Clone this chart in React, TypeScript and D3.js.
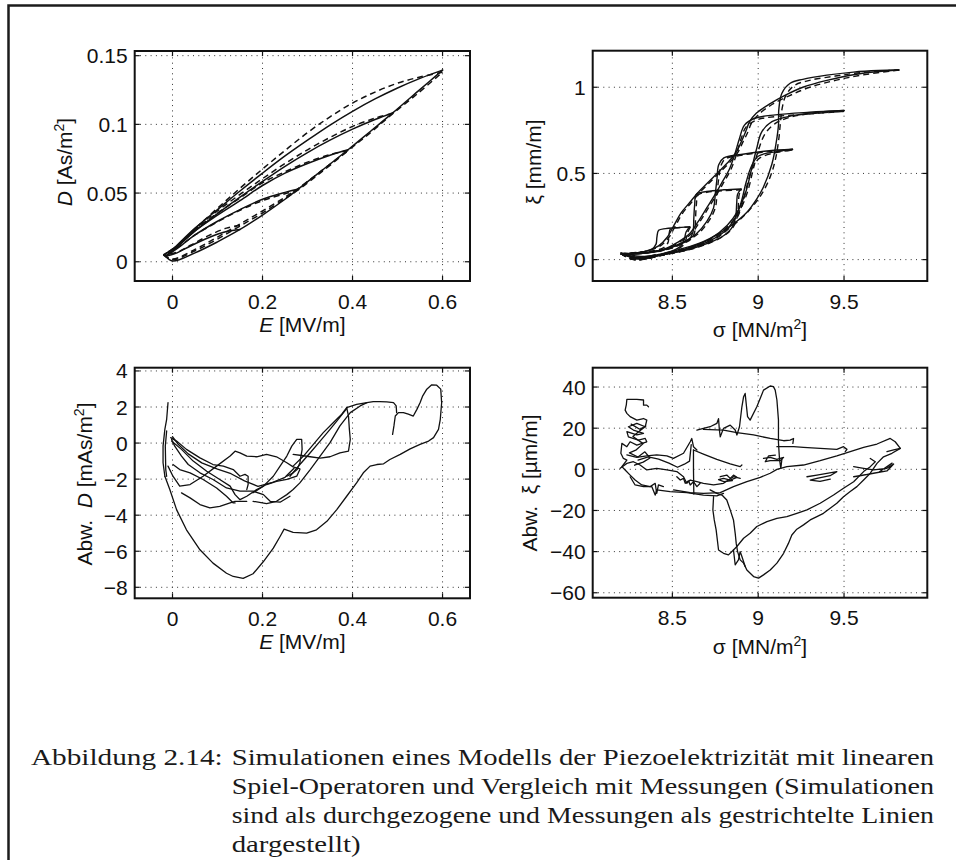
import React from 'react';
import * as d3 from 'd3';

type Pt = [number, number];
type Box = { x0: number; x1: number; y0: number; y1: number };

// ---------- tick values and labels ----------
const eTicks = [0, 0.2, 0.4, 0.6];
const eTickLabels = ['0', '0.2', '0.4', '0.6'];
const dTicks = [0, 0.05, 0.1, 0.15];
const dTickLabels = ['0', '0.05', '0.1', '0.15'];
const sigmaTicks = [8.5, 9, 9.5];
const sigmaTickLabels = ['8.5', '9', '9.5'];
const xiTicks = [0, 0.5, 1];
const xiTickLabels = ['0', '0.5', '1'];
const dErrTicks = [-8, -6, -4, -2, 0, 2, 4];
const dErrTickLabels = ['\u22128', '\u22126', '\u22124', '\u22122', '0', '2', '4'];
const xiErrTicks = [-60, -40, -20, 0, 20, 40];
const xiErrTickLabels = ['\u221260', '\u221240', '\u221220', '0', '20', '40'];

// ---------- D(E): simulation (solid) ----------
const simDAsc: Pt[] = [[-0.015, 0.004], [0, 0.0005], [0.05, 0.0065], [0.1, 0.0145], [0.15, 0.0235], [0.2, 0.034], [0.25, 0.0455], [0.28, 0.053], [0.33, 0.066], [0.39, 0.0815], [0.44, 0.095], [0.49, 0.1085], [0.545, 0.124], [0.6, 0.1395]];
const simDLoop1: Pt[] = [[0.6, 0.1395], [0.55, 0.1335], [0.5, 0.1265], [0.45, 0.1185], [0.4, 0.1095], [0.35, 0.0995], [0.3, 0.0885], [0.25, 0.077], [0.2, 0.0645], [0.15, 0.0515], [0.1, 0.038], [0.05, 0.0245], [0.01, 0.012], [-0.015, 0.004]];
const simDLoop2: Pt[] = [[0.49, 0.1085], [0.45, 0.1035], [0.4, 0.0965], [0.35, 0.0885], [0.3, 0.0795], [0.25, 0.0695], [0.2, 0.0585], [0.15, 0.047], [0.1, 0.035], [0.05, 0.0225], [0.01, 0.011], [-0.015, 0.004]];
const simDLoop3: Pt[] = [[0.39, 0.0815], [0.35, 0.0775], [0.3, 0.0715], [0.25, 0.0645], [0.2, 0.0555], [0.15, 0.0445], [0.1, 0.034], [0.05, 0.0225], [0.01, 0.0105], [-0.015, 0.004]];
const simDLoop4: Pt[] = [[0.28, 0.053], [0.25, 0.0505], [0.2, 0.0455], [0.15, 0.038], [0.1, 0.0295], [0.05, 0.0195], [0.01, 0.0095], [-0.015, 0.004]];
const simDLoop5: Pt[] = [[0.15, 0.0235], [0.12, 0.022], [0.08, 0.0175], [0.04, 0.0115], [0.01, 0.0065], [-0.015, 0.004]];

// ---------- D(E): measurement (dashed) ----------
const measDAsc: Pt[] = [[-0.02, 0.005], [0, 0.002], [0.05, 0.009], [0.1, 0.018], [0.15, 0.0275], [0.2, 0.037], [0.25, 0.047], [0.28, 0.0535], [0.33, 0.066], [0.39, 0.081], [0.44, 0.094], [0.49, 0.108], [0.545, 0.1225], [0.6, 0.138]];
const measDAscInner: Pt[] = [[-0.02, 0.005], [0, 0.0015], [0.05, 0.008], [0.1, 0.0165], [0.15, 0.026], [0.2, 0.0355], [0.25, 0.046], [0.28, 0.0525], [0.33, 0.065], [0.39, 0.0808]];
const measDLoop1: Pt[] = [[0.6, 0.138], [0.55, 0.1345], [0.5, 0.13], [0.45, 0.1235], [0.4, 0.1155], [0.35, 0.1055], [0.3, 0.094], [0.25, 0.081], [0.2, 0.0675], [0.15, 0.0535], [0.1, 0.039], [0.05, 0.024], [0.01, 0.0115], [-0.02, 0.005]];
const measDLoop2: Pt[] = [[0.49, 0.108], [0.45, 0.1045], [0.4, 0.0985], [0.35, 0.0905], [0.3, 0.0815], [0.25, 0.0715], [0.2, 0.0605], [0.15, 0.049], [0.1, 0.037], [0.05, 0.024], [0.01, 0.0115], [-0.02, 0.005]];
const measDLoop3: Pt[] = [[0.39, 0.081], [0.35, 0.078], [0.3, 0.0725], [0.25, 0.0655], [0.2, 0.0575], [0.15, 0.0465], [0.1, 0.0355], [0.05, 0.0235], [0.01, 0.0115], [-0.02, 0.005]];
const measDLoop4: Pt[] = [[0.28, 0.0525], [0.25, 0.0495], [0.2, 0.0445], [0.15, 0.0375], [0.1, 0.029], [0.05, 0.0195], [0.01, 0.01], [-0.02, 0.005]];
const measDLoop5: Pt[] = [[0.15, 0.0265], [0.12, 0.0245], [0.08, 0.019], [0.04, 0.012], [0.01, 0.007], [-0.02, 0.005]];

// ---------- xi(sigma): simulation (solid) ----------
const simXiAsc1: Pt[] = [[8.22, 0.03], [8.29, 0.005], [8.4, 0.02], [8.49, 0.046], [8.6, 0.075], [8.68, 0.104], [8.76, 0.145], [8.84, 0.195], [8.93, 0.27], [8.99, 0.35], [9.03, 0.42], [9.08, 0.555], [9.105, 0.68], [9.118, 0.78], [9.12, 0.87], [9.138, 0.965], [9.186, 1.023], [9.26, 1.046], [9.4, 1.07], [9.555, 1.088], [9.7, 1.097], [9.82, 1.1]];
const simXiDesc1: Pt[] = [[9.82, 1.1], [9.6, 1.08], [9.4, 1.04], [9.26, 1.0], [9.15, 0.95], [9.07, 0.905], [8.99, 0.85], [8.95, 0.8], [8.93, 0.75], [8.9, 0.68], [8.87, 0.62], [8.82, 0.56], [8.76, 0.5], [8.7, 0.44], [8.65, 0.39], [8.6, 0.33], [8.55, 0.27], [8.51, 0.2], [8.47, 0.13], [8.42, 0.08], [8.35, 0.05], [8.22, 0.03]];
const simXiAsc2: Pt[] = [[8.22, 0.03], [8.3, 0.01], [8.45, 0.03], [8.6, 0.07], [8.72, 0.12], [8.82, 0.2], [8.88, 0.28], [8.93, 0.4], [8.96, 0.52], [8.99, 0.64], [9.02, 0.74], [9.08, 0.8], [9.2, 0.835], [9.35, 0.855], [9.5, 0.865]];
const simXiDesc2: Pt[] = [[9.5, 0.865], [9.3, 0.855], [9.1, 0.84], [8.98, 0.82], [8.92, 0.78], [8.89, 0.7], [8.86, 0.6], [8.83, 0.52], [8.79, 0.45], [8.75, 0.38], [8.7, 0.3], [8.65, 0.22], [8.6, 0.15], [8.53, 0.1], [8.45, 0.06], [8.35, 0.04], [8.22, 0.03]];
const simXiAsc3: Pt[] = [[8.22, 0.03], [8.3, 0.01], [8.45, 0.03], [8.6, 0.065], [8.72, 0.11], [8.8, 0.16], [8.86, 0.23], [8.9, 0.33], [8.93, 0.45], [8.96, 0.54], [9.0, 0.6], [9.1, 0.625], [9.2, 0.64]];
const simXiDesc3: Pt[] = [[9.2, 0.64], [9.05, 0.63], [8.9, 0.61], [8.8, 0.59], [8.77, 0.55], [8.76, 0.47], [8.75, 0.38], [8.74, 0.3], [8.7, 0.22], [8.64, 0.15], [8.56, 0.1], [8.46, 0.06], [8.35, 0.04], [8.22, 0.03]];
const simXiAsc4: Pt[] = [[8.22, 0.03], [8.3, 0.01], [8.45, 0.03], [8.6, 0.06], [8.72, 0.1], [8.8, 0.14], [8.85, 0.19], [8.87, 0.26], [8.875, 0.33], [8.88, 0.38], [8.9, 0.41]];
const simXiDesc4: Pt[] = [[8.9, 0.41], [8.8, 0.405], [8.7, 0.395], [8.64, 0.38], [8.63, 0.32], [8.625, 0.24], [8.62, 0.16], [8.6, 0.12], [8.52, 0.08], [8.42, 0.05], [8.3, 0.035], [8.22, 0.03]];
const simXiAsc5: Pt[] = [[8.22, 0.03], [8.3, 0.015], [8.42, 0.03], [8.5, 0.05], [8.55, 0.08], [8.57, 0.12], [8.58, 0.16], [8.6, 0.19]];
const simXiDesc5: Pt[] = [[8.6, 0.19], [8.52, 0.185], [8.46, 0.18], [8.42, 0.17], [8.41, 0.13], [8.405, 0.09], [8.38, 0.06], [8.3, 0.04], [8.22, 0.03]];
const simXiFoot1: Pt[] = [[8.2, 0.04], [8.24, 0.02], [8.28, 0.006], [8.33, 0.004], [8.38, 0.012]];
const simXiFoot2: Pt[] = [[8.2, 0.033], [8.25, 0.028], [8.3, 0.02], [8.36, 0.02], [8.4, 0.028]];

// ---------- xi(sigma): measurement (dashed) ----------
const measXiAsc1: Pt[] = [[8.2, 0.035], [8.28, 0.0], [8.4, 0.018], [8.5, 0.044], [8.62, 0.078], [8.72, 0.118], [8.8, 0.165], [8.88, 0.22], [8.96, 0.3], [9.02, 0.38], [9.07, 0.48], [9.1, 0.58], [9.12, 0.7], [9.13, 0.8], [9.14, 0.88], [9.16, 0.95], [9.21, 1.01], [9.3, 1.04], [9.45, 1.065], [9.6, 1.085], [9.82, 1.1]];
const measXiDesc1: Pt[] = [[9.82, 1.1], [9.6, 1.07], [9.45, 1.04], [9.3, 1.0], [9.18, 0.95], [9.08, 0.9], [9.0, 0.84], [8.96, 0.79], [8.94, 0.74], [8.91, 0.68], [8.88, 0.62], [8.83, 0.56], [8.77, 0.5], [8.71, 0.44], [8.66, 0.39], [8.61, 0.33], [8.56, 0.27], [8.52, 0.2], [8.48, 0.13], [8.43, 0.08], [8.35, 0.05], [8.2, 0.035]];
const measXiAsc2: Pt[] = [[8.2, 0.035], [8.28, 0.0], [8.45, 0.028], [8.6, 0.068], [8.72, 0.118], [8.82, 0.19], [8.89, 0.28], [8.94, 0.4], [8.97, 0.52], [9.0, 0.63], [9.04, 0.73], [9.1, 0.79], [9.2, 0.83], [9.35, 0.85], [9.5, 0.86]];
const measXiDesc2: Pt[] = [[9.5, 0.86], [9.3, 0.845], [9.1, 0.83], [8.99, 0.81], [8.93, 0.77], [8.9, 0.7], [8.87, 0.6], [8.84, 0.52], [8.8, 0.45], [8.76, 0.38], [8.71, 0.3], [8.66, 0.22], [8.61, 0.15], [8.54, 0.1], [8.46, 0.06], [8.35, 0.04], [8.2, 0.035]];
const measXiAsc3: Pt[] = [[8.2, 0.035], [8.28, 0.0], [8.45, 0.028], [8.6, 0.062], [8.72, 0.105], [8.8, 0.155], [8.87, 0.23], [8.91, 0.33], [8.94, 0.45], [8.97, 0.54], [9.01, 0.59], [9.1, 0.62], [9.2, 0.635]];
const measXiDesc3: Pt[] = [[9.2, 0.635], [9.05, 0.625], [8.9, 0.605], [8.81, 0.585], [8.785, 0.55], [8.77, 0.47], [8.76, 0.38], [8.75, 0.3], [8.71, 0.22], [8.65, 0.15], [8.57, 0.1], [8.47, 0.06], [8.35, 0.04], [8.2, 0.035]];
const measXiAsc4: Pt[] = [[8.2, 0.035], [8.28, 0.0], [8.45, 0.028], [8.6, 0.058], [8.72, 0.098], [8.8, 0.138], [8.855, 0.19], [8.88, 0.26], [8.885, 0.33], [8.89, 0.38], [8.905, 0.405]];
const measXiDesc4: Pt[] = [[8.905, 0.405], [8.8, 0.4], [8.7, 0.39], [8.65, 0.375], [8.64, 0.32], [8.635, 0.24], [8.63, 0.16], [8.61, 0.12], [8.53, 0.08], [8.43, 0.05], [8.3, 0.035], [8.2, 0.035]];
const measXiAsc5: Pt[] = [[8.2, 0.035], [8.28, 0.005], [8.42, 0.028], [8.5, 0.048], [8.56, 0.08], [8.58, 0.12], [8.59, 0.16], [8.605, 0.19]];
const measXiDesc5: Pt[] = [[8.605, 0.19], [8.53, 0.185], [8.49, 0.18], [8.48, 0.14], [8.475, 0.1], [8.45, 0.07], [8.38, 0.05], [8.3, 0.04], [8.2, 0.035]];

// ---------- deviation of D (mAs/m^2) over E ----------
const errDLeft: Pt[] = [[-0.01, 2.24], [-0.013, 1.32], [-0.017, 0.76], [-0.021, -0.17], [-0.021, -1.09], [-0.017, -1.84]];
const errDLeft2: Pt[] = [[-0.013, 0.67], [-0.016, -0.17], [-0.015, -1.47], [-0.013, -1.84]];
const errDOuter: Pt[] = [[-0.017, -1.84], [-0.006, -2.58], [0.009, -3.69], [0.031, -4.81], [0.061, -5.92], [0.09, -6.66], [0.12, -7.22], [0.135, -7.4], [0.157, -7.5], [0.179, -7.25], [0.202, -6.57], [0.224, -5.83], [0.239, -5.18], [0.248, -4.77], [0.268, -4.95], [0.298, -4.99], [0.32, -4.81], [0.343, -4.34], [0.365, -3.69], [0.387, -2.95], [0.409, -2.21], [0.424, -1.65], [0.439, -1.28], [0.454, -1.19], [0.469, -1.15], [0.483, -0.91], [0.506, -0.63], [0.528, -0.32], [0.55, -0.07], [0.569, 0.11], [0.58, 0.3], [0.591, 0.76], [0.595, 1.32], [0.598, 2.24], [0.596, 2.99], [0.587, 3.21], [0.576, 3.23], [0.565, 2.99], [0.556, 2.62], [0.55, 2.24], [0.543, 1.87], [0.535, 1.5], [0.524, 1.6], [0.513, 1.69], [0.502, 1.69], [0.495, 1.5], [0.492, 0.95], [0.489, 0.48]];
const errDTop: Pt[] = [[0.387, 1.97], [0.409, 2.15], [0.432, 2.24], [0.446, 2.3], [0.461, 2.3], [0.476, 2.28], [0.491, 2.24], [0.497, 2.06], [0.498, 1.69]];
const errDStep: Pt[] = [[0.387, 1.97], [0.391, 1.5], [0.393, 0.76], [0.395, 0.2], [0.391, -0.45], [0.372, -0.54], [0.35, -0.76], [0.328, -0.83], [0.306, -0.76], [0.287, -0.69], [0.268, -0.63]];
const errDRise1: Pt[] = [[0.261, -1.84], [0.283, -1.19], [0.306, -0.54], [0.328, 0.11], [0.35, 0.76], [0.365, 1.22], [0.38, 1.69], [0.387, 1.91]];
const errDRise2: Pt[] = [[0.268, -1.28], [0.291, -0.72], [0.313, -0.07], [0.335, 0.58], [0.357, 1.13], [0.376, 1.6], [0.387, 1.97]];
const errDRise3: Pt[] = [[0.179, -3.23], [0.209, -3.36], [0.231, -3.23], [0.254, -2.86], [0.268, -2.58], [0.283, -2.21], [0.306, -1.47], [0.328, -0.72], [0.35, 0.02], [0.372, 0.95], [0.395, 1.69], [0.417, 2.06], [0.432, 2.24]];
const errDPeak: Pt[] = [[0.179, -2.76], [0.202, -2.39], [0.224, -1.84], [0.239, -1.28], [0.254, -0.72], [0.265, -0.17], [0.276, 0.2], [0.287, 0.2], [0.288, -0.35], [0.283, -1.09], [0.277, -1.47], [0.268, -1.65], [0.254, -1.84]];
const errDFan1: Pt[] = [[-0.004, 0.3], [0.009, 0.11], [0.031, -0.35], [0.061, -0.82], [0.09, -1.19], [0.113, -1.28], [0.135, -1.47], [0.15, -1.84], [0.161, -1.74], [0.168, -1.84], [0.168, -2.3], [0.165, -2.58]];
const errDFan2: Pt[] = [[-0.002, 0.11], [0.02, -0.35], [0.046, -1.0], [0.076, -1.56], [0.105, -2.02], [0.128, -2.39], [0.139, -2.86], [0.15, -3.14], [0.165, -2.95], [0.187, -2.58], [0.209, -2.3], [0.231, -2.12], [0.254, -2.02], [0.276, -1.84], [0.283, -1.47]];
const errDFan3: Pt[] = [[0.001, -1.19], [0.016, -1.47], [0.039, -1.65], [0.068, -2.02], [0.098, -2.49], [0.12, -2.95], [0.135, -3.32], [0.139, -3.32]];
const errDFan4: Pt[] = [[-0.01, -1.28], [0.001, -1.84], [0.016, -2.39], [0.039, -2.3], [0.068, -1.84], [0.098, -1.28], [0.128, -0.72], [0.139, -0.45], [0.15, -0.54], [0.165, -0.72], [0.187, -0.76], [0.209, -0.63], [0.231, -0.76], [0.254, -1.09], [0.268, -1.32], [0.283, -1.43]];
const errDFan5: Pt[] = [[0.02, -2.76], [0.039, -3.04], [0.061, -3.41], [0.083, -3.6], [0.105, -3.51], [0.128, -3.32], [0.139, -3.23], [0.165, -3.23]];
const errDFan6: Pt[] = [[-0.002, 0.2], [0.005, -0.17], [0.02, -0.72], [0.035, -1.19], [0.061, -1.65], [0.09, -2.02], [0.12, -2.49], [0.15, -2.67], [0.179, -2.67], [0.202, -2.86], [0.217, -3.23], [0.239, -3.28], [0.261, -2.95]];
const errDFan7: Pt[] = [[0.0, 0.35], [0.012, -0.05], [0.035, -0.6], [0.065, -1.1], [0.1, -1.45], [0.13, -1.7], [0.16, -2.1], [0.19, -2.4], [0.22, -2.2], [0.25, -1.9], [0.27, -1.4]];

// ---------- deviation of xi (um/m) over sigma ----------
const errXiScribble: Pt[] = [[8.361, 30.4], [8.351, 31.2], [8.332, 31.2], [8.332, 33.7], [8.293, 34.0], [8.254, 34.0], [8.235, 34.0], [8.232, 31.5], [8.225, 28.8], [8.235, 27.2], [8.254, 25.6], [8.293, 23.9], [8.332, 24.7], [8.351, 23.9], [8.342, 20.7], [8.293, 22.3], [8.244, 20.7], [8.273, 19.1], [8.332, 17.5], [8.293, 16.7], [8.235, 18.3], [8.244, 15.8], [8.302, 14.2], [8.342, 15.0], [8.351, 13.4], [8.293, 11.8], [8.254, 13.4], [8.235, 11.0], [8.206, 12.6], [8.2, 7.8], [8.215, 5.3], [8.235, 4.5], [8.206, 1.3], [8.225, -0.3], [8.254, -2.8], [8.283, -5.2], [8.322, -7.6], [8.371, -8.4], [8.4, -6.8], [8.409, -11.7], [8.419, -7.6], [8.448, -8.4]];
const errXiScribble2: Pt[] = [[8.26, 22.0], [8.31, 19.5], [8.345, 21.0], [8.3, 18.0], [8.27, 16.0], [8.33, 12.5], [8.29, 9.5], [8.25, 8.0], [8.3, 6.0], [8.34, 8.5], [8.37, 5.5], [8.33, 3.5], [8.28, 2.0]];
const errXiLeftA: Pt[] = [[8.235, 7.0], [8.293, 5.8], [8.351, 6.5], [8.409, 7.0], [8.468, 6.5], [8.506, 5.3], [8.565, 7.8], [8.604, 13.4], [8.613, 15.0], [8.623, 11.0], [8.643, 9.4]];
const errXiLeftB: Pt[] = [[8.196, 0.5], [8.235, 2.9], [8.273, 3.7], [8.312, 2.1], [8.351, -0.3], [8.409, 0.5], [8.468, -0.3], [8.526, -1.1], [8.565, -3.6], [8.584, -6.8], [8.604, -5.2], [8.643, -6.0], [8.681, -6.8], [8.74, -7.6], [8.798, -6.8], [8.856, -3.6], [8.895, -4.4]];
const errXiLeftC: Pt[] = [[8.254, -3.6], [8.283, -7.6], [8.332, -8.4], [8.38, -8.4], [8.4, -12.5], [8.409, -10.0], [8.487, -10.8], [8.584, -11.3], [8.681, -12.5], [8.759, -12.9], [8.798, -11.7]];
const errXiLeftD: Pt[] = [[8.3, 4.5], [8.36, 6.0], [8.42, 5.0], [8.48, 3.0], [8.53, 1.0], [8.57, 2.5], [8.6, 4.0], [8.61, 12.0]];
const errXiDrop: Pt[] = [[8.623, 9.4], [8.623, 0.0], [8.625, -12.0]];
const errXiSpikes: Pt[] = [[8.643, 19.1], [8.681, 19.9], [8.72, 20.7], [8.759, 22.3], [8.769, 24.6], [8.774, 19.1], [8.779, 15.8], [8.798, 19.9], [8.837, 21.5], [8.866, 19.1], [8.876, 16.7], [8.891, 20.7], [8.905, 30.4], [8.915, 35.3], [8.924, 36.9], [8.93, 32.0], [8.938, 25.6], [8.953, 23.9], [8.992, 30.4], [9.031, 38.5], [9.07, 40.5], [9.089, 40.2], [9.099, 38.5], [9.109, 33.7], [9.118, 24.0], [9.118, 13.0], [9.124, 5.0], [9.132, 0.5], [9.138, 5.0]];
const errXiUpper: Pt[] = [[8.681, 19.4], [8.798, 19.1], [8.876, 17.8], [8.973, 16.7], [9.07, 15.0], [9.148, 13.9], [9.186, 14.2], [9.206, 15.0], [9.202, 12.6]];
const errXiUpper2: Pt[] = [[9.109, 11.0], [9.206, 11.0], [9.264, 10.7], [9.361, 10.2], [9.458, 9.7], [9.497, 11.0], [9.517, 9.7], [9.507, 8.6]];
const errXiLong: Pt[] = [[8.507, -10.0], [8.604, -11.3], [8.681, -11.7], [8.779, -11.3], [8.856, -8.4], [8.934, -6.0], [9.012, -3.9], [9.07, -1.9], [9.109, 0.0], [9.167, 1.3], [9.264, 2.1], [9.361, 4.2], [9.458, 6.5], [9.536, 8.6], [9.614, 10.7], [9.692, 12.3], [9.769, 15.0], [9.798, 13.4], [9.828, 10.2], [9.789, 9.4], [9.75, 8.6]];
const errXiOuter: Pt[] = [[9.828, 10.2], [9.779, 7.8], [9.73, 6.1], [9.692, 2.9], [9.653, -1.9], [9.614, -5.2], [9.575, -8.4], [9.536, -10.8], [9.497, -13.3], [9.458, -16.5], [9.419, -18.9], [9.38, -21.4], [9.342, -23.0], [9.303, -24.6], [9.264, -27.0], [9.225, -29.1], [9.196, -31.9], [9.176, -36.0], [9.148, -40.8], [9.109, -45.6], [9.07, -48.9], [9.031, -51.3], [9.002, -52.9], [8.973, -52.1], [8.934, -48.9], [8.915, -45.6], [8.895, -44.0], [8.88, -40.0], [8.872, -36.0], [8.866, -31.1], [8.856, -24.6], [8.837, -19.7], [8.817, -14.9], [8.789, -12.5], [8.759, -11.7], [8.72, -10.0]];
const errXiInner: Pt[] = [[8.74, -13.3], [8.736, -19.7], [8.744, -24.6], [8.755, -29.4], [8.769, -39.2], [8.798, -40.8], [8.827, -41.6], [8.856, -39.2], [8.876, -37.5], [8.915, -33.5], [8.953, -31.1], [8.992, -27.8], [9.051, -25.4], [9.109, -23.8], [9.167, -23.0], [9.225, -21.4], [9.284, -19.7], [9.361, -16.5], [9.439, -12.5], [9.497, -9.2], [9.556, -6.0], [9.614, -1.1], [9.653, 1.3], [9.682, 3.7], [9.653, 5.3]];
const errXiNotch: Pt[] = [[8.856, -39.2], [8.866, -46.4], [8.885, -44.0], [8.895, -40.0], [8.905, -42.4], [8.924, -47.2]];
const errXiMid: Pt[] = [[8.623, 9.4], [8.681, 7.4], [8.759, 4.8], [8.837, 2.6], [8.895, 1.3], [8.905, 2.1]];
const errXiKnot1: Pt[] = [[8.779, -3.6], [8.817, -2.8], [8.837, -4.4], [8.856, -2.8], [8.876, -3.9], [8.837, -5.2], [8.798, -4.4], [8.769, -5.0], [8.8, -6.0], [8.85, -5.5]];
const errXiKnot2: Pt[] = [[9.031, 5.3], [9.07, 5.8], [9.109, 4.8], [9.148, 5.8], [9.128, 4.2], [9.07, 4.2], [9.041, 3.7], [9.06, 6.5], [9.1, 6.9]];
const errXiKnot3: Pt[] = [[9.284, -3.6], [9.342, -2.8], [9.4, -2.0], [9.458, -1.1], [9.419, -3.1], [9.342, -4.4], [9.303, -5.2], [9.36, -5.9], [9.42, -4.8]];
const errXiKnot4: Pt[] = [[9.556, 1.3], [9.614, 0.5], [9.672, -0.3], [9.75, 0.5], [9.789, 2.6], [9.75, -0.8], [9.672, -1.9], [9.614, -2.8], [9.556, -3.6], [9.6, -3.0], [9.7, -1.5], [9.78, 3.0]];
const errXiKnot5: Pt[] = [[8.526, -3.6], [8.546, -5.2], [8.565, -4.4], [8.575, -6.8], [8.594, -5.6], [8.604, -7.6], [8.623, -6.0], [8.643, -8.4], [8.662, -6.8]];

// ---------- figure caption ----------
const captionLabel = 'Abbildung 2.14:';
const captionLines = [
  'Simulationen eines Modells der Piezoelektrizit\u00e4t mit linearen',
  'Spiel-Operatoren und Vergleich mit Messungen (Simulationen',
  'sind als durchgezogene und Messungen als gestrichtelte Linien',
  'dargestellt)',
];

// ---------- layout ----------
const SANS = '"Liberation Sans", Arial, Helvetica, sans-serif';
const SERIF = '"Liberation Serif", "Times New Roman", serif';
const INK = '#111';

const boxTL: Box = { x0: 134.7, x1: 470, y0: 51, y1: 281 };
const boxTR: Box = { x0: 592.7, x1: 927.3, y0: 50.7, y1: 281 };
const boxBL: Box = { x0: 134.7, x1: 470, y0: 367.7, y1: 598.3 };
const boxBR: Box = { x0: 592.7, x1: 927.3, y0: 367.7, y1: 597.7 };

interface PanelProps {
  id: string;
  box: Box;
  xDomain: [number, number];
  yDomain: [number, number];
  xTicks: number[];
  xTickLabels: string[];
  yTicks: number[];
  yTickLabels: string[];
  solid: Pt[][];
  dashed?: Pt[][];
  smooth: boolean;
  lineWidth: number;
}

function Panel(p: PanelProps) {
  const { box } = p;
  const x = d3.scaleLinear().domain(p.xDomain).range([box.x0, box.x1]);
  const y = d3.scaleLinear().domain(p.yDomain).range([box.y1, box.y0]);
  const line = d3
    .line<Pt>()
    .x((d) => x(d[0]))
    .y((d) => y(d[1]))
    .curve(p.smooth ? d3.curveCatmullRom.alpha(0.5) : d3.curveLinear);
  const tick = 5;
  const clip = `clip-${p.id}`;
  return (
    <g>
      <clipPath id={clip}>
        <rect x={box.x0} y={box.y0} width={box.x1 - box.x0} height={box.y1 - box.y0} />
      </clipPath>
      {/* dotted grid */}
      <g stroke="#333" strokeWidth={1} strokeDasharray="1 4.3">
        {p.xTicks.map((t) => (
          <line key={`gx${t}`} x1={x(t)} x2={x(t)} y1={box.y1} y2={box.y0} />
        ))}
        {p.yTicks.map((t) => (
          <line key={`gy${t}`} x1={box.x0} x2={box.x1} y1={y(t)} y2={y(t)} />
        ))}
      </g>
      <g clipPath={`url(#${clip})`} fill="none" stroke={INK} strokeLinejoin="round" strokeLinecap="round">
        {p.solid.map((c, i) => (
          <path key={`s${i}`} d={line(c) || ''} strokeWidth={p.lineWidth} />
        ))}
        {(p.dashed || []).map((c, i) => (
          <path key={`d${i}`} d={line(c) || ''} strokeWidth={p.lineWidth} strokeDasharray="6 4" strokeLinecap="butt" />
        ))}
      </g>
      <rect x={box.x0} y={box.y0} width={box.x1 - box.x0} height={box.y1 - box.y0} fill="none" stroke={INK} strokeWidth={2} />
      <g stroke={INK} strokeWidth={1.2}>
        {p.xTicks.map((t) => (
          <g key={`tx${t}`}>
            <line x1={x(t)} x2={x(t)} y1={box.y1} y2={box.y1 - tick} />
            <line x1={x(t)} x2={x(t)} y1={box.y0} y2={box.y0 + tick} />
          </g>
        ))}
        {p.yTicks.map((t) => (
          <g key={`ty${t}`}>
            <line x1={box.x0} x2={box.x0 + tick} y1={y(t)} y2={y(t)} />
            <line x1={box.x1} x2={box.x1 - tick} y1={y(t)} y2={y(t)} />
          </g>
        ))}
      </g>
      <g fontFamily={SANS} fontSize={21} fill={INK}>
        {p.xTicks.map((t, i) => (
          <text key={`lx${t}`} x={x(t)} y={box.y1 + 27.5} textAnchor="middle">
            {p.xTickLabels[i]}
          </text>
        ))}
        {p.yTicks.map((t, i) => (
          <text key={`ly${t}`} x={box.x0 - 7} y={y(t) + 7.5} textAnchor="end">
            {p.yTickLabels[i]}
          </text>
        ))}
      </g>
    </g>
  );
}

// unit text with a raised "2" followed by a closing bracket back on the baseline
function SquaredUnit({ before }: { before: string }) {
  return (
    <>
      {before}
      <tspan dy={-8} fontSize={14}>
        2
      </tspan>
      <tspan dy={8}>]</tspan>
    </>
  );
}

export default function App() {
  return (
    <svg
      width={956}
      height={860}
      viewBox="0 0 956 860"
      style={{ position: 'absolute', left: 0, top: 0, display: 'block', background: '#fff' }}
    >
      <rect x={0} y={0} width={956} height={860} fill="#fff" />
      {/* page frame */}
      <path d="M 8.5 860 L 8.5 5.5 L 956 5.5" fill="none" stroke="#1c1c1c" strokeWidth={2.5} />

      <Panel
        id="de"
        box={boxTL}
        xDomain={[-0.084, 0.661]}
        yDomain={[-0.014, 0.1534]}
        xTicks={eTicks}
        xTickLabels={eTickLabels}
        yTicks={dTicks}
        yTickLabels={dTickLabels}
        smooth
        lineWidth={1.5}
        solid={[simDAsc, simDLoop1, simDLoop2, simDLoop3, simDLoop4, simDLoop5]}
        dashed={[measDAsc, measDAscInner, measDLoop1, measDLoop2, measDLoop3, measDLoop4, measDLoop5]}
      />
      <Panel
        id="xs"
        box={boxTR}
        xDomain={[8.036, 9.985]}
        yDomain={[-0.124, 1.212]}
        xTicks={sigmaTicks}
        xTickLabels={sigmaTickLabels}
        yTicks={xiTicks}
        yTickLabels={xiTickLabels}
        smooth
        lineWidth={1.4}
        solid={[simXiAsc1, simXiDesc1, simXiAsc2, simXiDesc2, simXiAsc3, simXiDesc3, simXiAsc4, simXiDesc4, simXiAsc5, simXiDesc5, simXiFoot1, simXiFoot2]}
        dashed={[measXiAsc1, measXiDesc1, measXiAsc2, measXiDesc2, measXiAsc3, measXiDesc3, measXiAsc4, measXiDesc4, measXiAsc5, measXiDesc5]}
      />
      <Panel
        id="ed"
        box={boxBL}
        xDomain={[-0.084, 0.661]}
        yDomain={[-8.61, 4.18]}
        xTicks={eTicks}
        xTickLabels={eTickLabels}
        yTicks={dErrTicks}
        yTickLabels={dErrTickLabels}
        smooth={false}
        lineWidth={1.3}
        solid={[errDLeft, errDLeft2, errDOuter, errDTop, errDStep, errDRise1, errDRise2, errDRise3, errDPeak, errDFan1, errDFan2, errDFan3, errDFan4, errDFan5, errDFan6, errDFan7]}
      />
      <Panel
        id="ex"
        box={boxBR}
        xDomain={[8.036, 9.985]}
        yDomain={[-62.4, 49.4]}
        xTicks={sigmaTicks}
        xTickLabels={sigmaTickLabels}
        yTicks={xiErrTicks}
        yTickLabels={xiErrTickLabels}
        smooth={false}
        lineWidth={1.3}
        solid={[errXiScribble, errXiScribble2, errXiLeftA, errXiLeftB, errXiLeftC, errXiLeftD, errXiDrop, errXiSpikes, errXiUpper, errXiUpper2, errXiLong, errXiOuter, errXiInner, errXiNotch, errXiMid, errXiKnot1, errXiKnot2, errXiKnot3, errXiKnot4, errXiKnot5]}
      />

      {/* axis titles */}
      <g fontFamily={SANS} fontSize={21} fill={INK}>
        <text x={(boxTL.x0 + boxTL.x1) / 2} y={332} textAnchor="middle">
          <tspan fontStyle="italic">E</tspan> [MV/m]
        </text>
        <text x={(boxTR.x0 + boxTR.x1) / 2} y={337} textAnchor="middle">
          <SquaredUnit before={'\u03c3 [MN/m'} />
        </text>
        <text x={(boxBL.x0 + boxBL.x1) / 2} y={649} textAnchor="middle">
          <tspan fontStyle="italic">E</tspan> [MV/m]
        </text>
        <text x={(boxBR.x0 + boxBR.x1) / 2} y={654} textAnchor="middle">
          <SquaredUnit before={'\u03c3 [MN/m'} />
        </text>

        <text transform="translate(72,162) rotate(-90)" textAnchor="middle">
          <tspan fontStyle="italic">D</tspan>
          <SquaredUnit before=" [As/m" />
        </text>
        <text transform="translate(541,162) rotate(-90)" textAnchor="middle">
          {'\u03be [mm/m]'}
        </text>
        <text transform="translate(92,484) rotate(-90)" textAnchor="middle">
          {'Abw.\u00a0 '}
          <tspan fontStyle="italic">D</tspan>
          <SquaredUnit before=" [mAs/m" />
        </text>
        <text transform="translate(537,483) rotate(-90)" textAnchor="middle">
          {'Abw.\u00a0 \u03be [\u00b5m/m]'}
        </text>
      </g>

      {/* caption */}
      <g fontFamily={SERIF} fontSize={24} fill="#1a1a1a">
        <text x={31} y={765} textLength={191.7} lengthAdjust="spacingAndGlyphs">
          {captionLabel}
        </text>
        {captionLines.map((t, i) => (
          <text
            key={i}
            x={231.7}
            y={765 + i * 29}
            textLength={i < 3 ? 702.3 : 129}
            lengthAdjust="spacingAndGlyphs"
          >
            {t}
          </text>
        ))}
      </g>
    </svg>
  );
}
